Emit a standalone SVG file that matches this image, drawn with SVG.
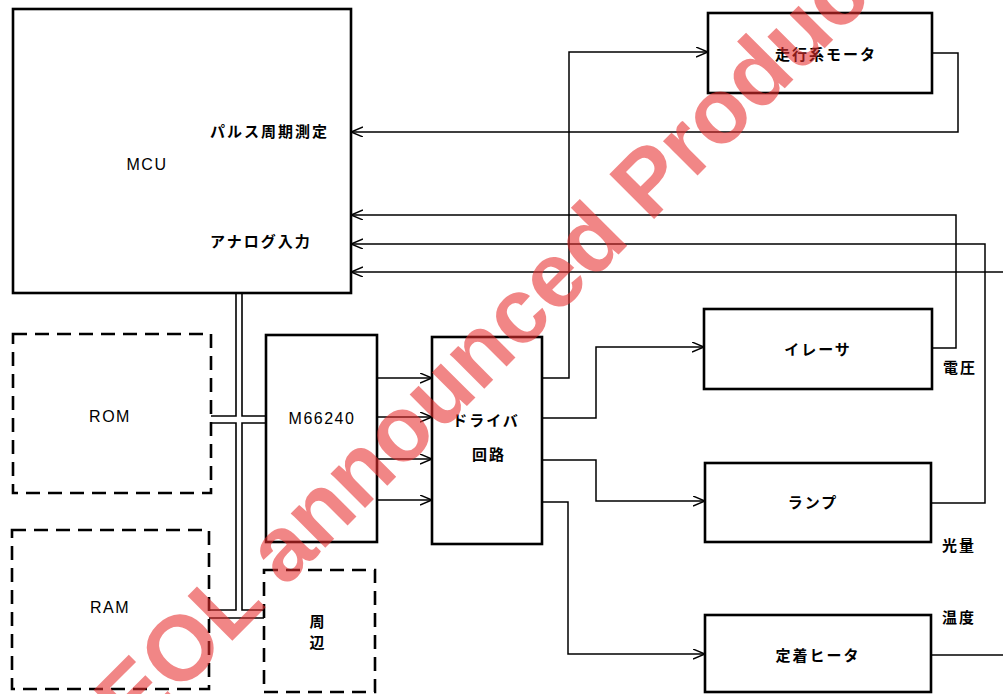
<svg xmlns="http://www.w3.org/2000/svg" width="1003" height="694" viewBox="0 0 1003 694">
<defs>
<marker id="arr" markerUnits="userSpaceOnUse" markerWidth="14" markerHeight="12" refX="12" refY="5" orient="auto">
<path d="M0,0 L12,5 L0,10" fill="none" stroke="#000" stroke-width="1.4"/>
</marker>
<style>
.box{fill:#fff;stroke:#000;stroke-width:2.6}
.dbox{fill:#fff;stroke:#000;stroke-width:2.6;stroke-dasharray:14 8}
.ln{fill:none;stroke:#000;stroke-width:1.5}
.bus{fill:none;stroke:#000;stroke-width:1.6}
.lat{font-family:"Liberation Sans",Arial,sans-serif;font-size:16px;fill:#000;letter-spacing:1.5px}
.jp{font-family:"Noto Sans CJK JP","Noto Sans",sans-serif;font-size:15px;font-weight:bold;fill:#000;letter-spacing:2px}
.wm{font-family:"Liberation Sans",Arial,sans-serif;font-size:92px;font-weight:bold;fill:#e83030;opacity:0.58}
</style>
</defs>
<rect width="1003" height="694" fill="#fff"/>
<g id="connectors">
<path class="bus" d="M236,293 V416 H211 M211,423 H236 V610 H209"/>
<path class="bus" d="M242,293 V416 H266 M266,423 H242 V610 H264"/>
<path class="bus" d="M209,618 H264"/>
<path class="ln" d="M377,378 H432" marker-end="url(#arr)"/>
<path class="ln" d="M377,417 H432" marker-end="url(#arr)"/>
<path class="ln" d="M377,459 H432" marker-end="url(#arr)"/>
<path class="ln" d="M377,500 H432" marker-end="url(#arr)"/>
<path class="ln" d="M542,378 H569 V52 H708" marker-end="url(#arr)"/>
<path class="ln" d="M542,418 H596 V347 H704" marker-end="url(#arr)"/>
<path class="ln" d="M542,460 H596 V501 H705" marker-end="url(#arr)"/>
<path class="ln" d="M542,502 H568 V654 H705" marker-end="url(#arr)"/>
<path class="ln" d="M932,53 H958 V132 H351" marker-end="url(#arr)"/>
<path class="ln" d="M932,348 H956 V215 H351" marker-end="url(#arr)"/>
<path class="ln" d="M931,503 H985 V244 H351" marker-end="url(#arr)"/>
<path class="ln" d="M1003,272 H351" marker-end="url(#arr)"/>
<path class="ln" d="M931,655 H1003"/>
</g>
<g id="mcu">
<rect class="box" x="13" y="9" width="338" height="284"/>
<text class="lat" x="147" y="170" text-anchor="middle">MCU</text>
<text class="jp" x="210" y="137">パルス周期測定</text>
<text class="jp" x="210" y="247">アナログ入力</text>
</g>
<g id="rom">
<rect class="dbox" x="13" y="334" width="198" height="159"/>
<text class="lat" x="110" y="422" text-anchor="middle" letter-spacing="3">ROM</text>
</g>
<g id="ram">
<rect class="dbox" x="12" y="530" width="197" height="159"/>
<text class="lat" x="110" y="613" text-anchor="middle" letter-spacing="3">RAM</text>
</g>
<g id="m66240">
<rect class="box" x="266" y="335" width="111" height="207"/>
<text class="lat" x="322" y="424" text-anchor="middle" letter-spacing="0">M66240</text>
</g>
<g id="peripheral">
<rect class="dbox" x="264" y="570" width="111" height="122"/>
<text class="jp" x="318" y="627" text-anchor="middle" letter-spacing="0" font-size="14">周</text>
<text class="jp" x="318" y="648" text-anchor="middle" letter-spacing="0" font-size="14">辺</text>
</g>
<g id="driver">
<rect class="box" x="432" y="337" width="110" height="207"/>
<text class="jp" x="486" y="426" text-anchor="middle">ドライバ</text>
<text class="jp" x="489" y="460" text-anchor="middle">回路</text>
</g>
<g id="motor">
<rect class="box" x="708" y="13" width="224" height="80"/>
<text class="jp" x="826" y="60" text-anchor="middle">走行系モータ</text>
</g>
<g id="eraser">
<rect class="box" x="704" y="309" width="228" height="80"/>
<text class="jp" x="818" y="355" text-anchor="middle">イレーサ</text>
</g>
<g id="lamp">
<rect class="box" x="705" y="463" width="226" height="79"/>
<text class="jp" x="813" y="508" text-anchor="middle">ランプ</text>
</g>
<g id="heater">
<rect class="box" x="705" y="615" width="226" height="77"/>
<text class="jp" x="818" y="661" text-anchor="middle">定着ヒータ</text>
</g>
<g id="labels">
<text class="jp" x="943" y="373" letter-spacing="1">電圧</text>
<text class="jp" x="942" y="551" letter-spacing="1">光量</text>
<text class="jp" x="942" y="623" letter-spacing="1">温度</text>
</g>
<text class="wm" transform="translate(134,739) rotate(-45)">EOL announced Product</text>
</svg>
